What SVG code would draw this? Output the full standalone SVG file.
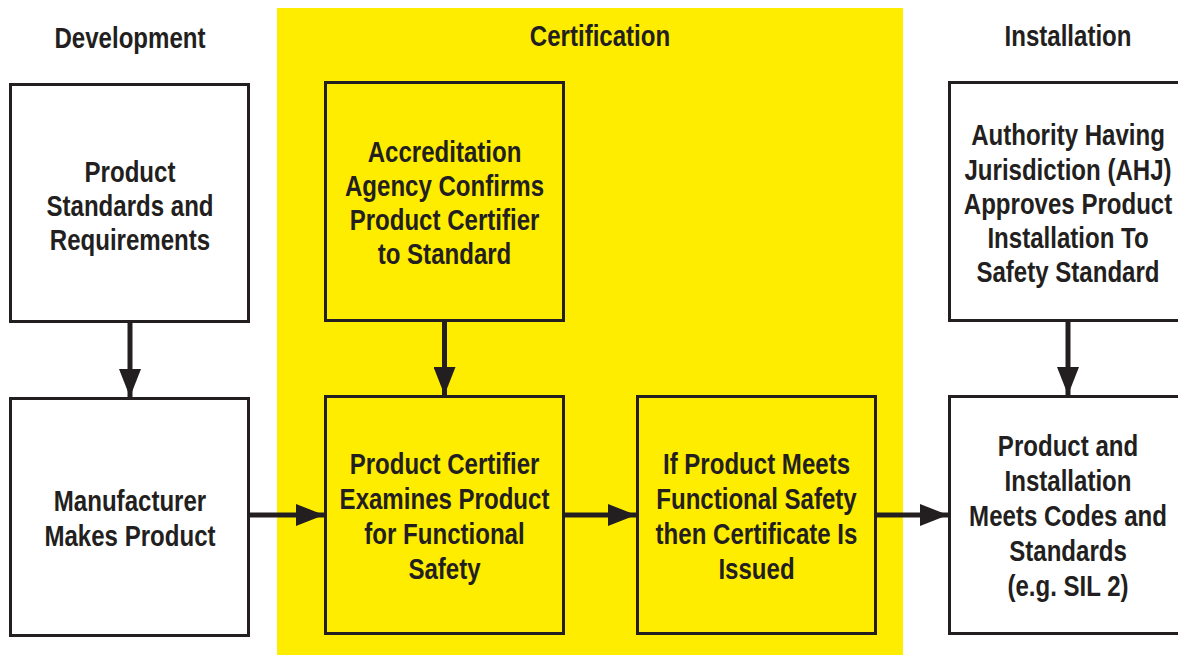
<svg xmlns="http://www.w3.org/2000/svg" width="1178" height="655" viewBox="0 0 1178 655">
  <style>
    .box { fill: #ffffff; stroke: #231f20; stroke-width: 3; }
    .ybox { fill: #ffed00; stroke: #231f20; stroke-width: 3; }
    .t { font-family: "Liberation Sans", Arial, sans-serif; font-weight: bold; font-size: 29px; fill: #231f20; text-anchor: middle; }
    .conn { stroke: #231f20; stroke-width: 5; fill: none; marker-end: url(#ah); }
  </style>
  <defs>
    <marker id="ah" markerUnits="userSpaceOnUse" markerWidth="28" markerHeight="22" refX="28" refY="11" orient="auto">
      <path d="M0,0 L28,11 L0,22 z" fill="#231f20"/>
    </marker>
  </defs>
  <rect x="0" y="0" width="1178" height="655" fill="#ffffff"/>
  <rect id="certification-band" x="277" y="8" width="626" height="647" fill="#ffed00"/>

  <g id="headers">
    <g transform="translate(130 0) scale(0.83 1)"><text class="t" x="0" y="48">Development</text></g>
    <g transform="translate(600 0) scale(0.83 1)"><text class="t" x="0" y="46">Certification</text></g>
    <g transform="translate(1068 0) scale(0.83 1)"><text class="t" x="0" y="46">Installation</text></g>
  </g>

  <g id="connectors">
    <line class="conn" x1="130" y1="323" x2="130" y2="397"/>
    <line class="conn" x1="444.5" y1="322" x2="444.5" y2="395"/>
    <line class="conn" x1="1068" y1="322" x2="1068" y2="395"/>
    <line class="conn" x1="250" y1="515" x2="324" y2="515"/>
    <line class="conn" x1="565" y1="515" x2="636" y2="515"/>
    <line class="conn" x1="877" y1="515" x2="948" y2="515"/>
  </g>

  <g id="product-standards">
    <rect class="box" x="10.5" y="84.5" width="238" height="237"/>
    <g transform="translate(130 0) scale(0.83 1)">
      <text class="t" x="0" y="182">Product</text>
      <text class="t" x="0" y="216">Standards and</text>
      <text class="t" x="0" y="250">Requirements</text>
    </g>
  </g>

  <g id="manufacturer">
    <rect class="box" x="10.5" y="398.5" width="238" height="237"/>
    <g transform="translate(130 0) scale(0.83 1)">
      <text class="t" x="0" y="511">Manufacturer</text>
      <text class="t" x="0" y="546">Makes Product</text>
    </g>
  </g>

  <g id="accreditation">
    <rect class="ybox" x="325.5" y="82.5" width="238" height="238"/>
    <g transform="translate(444.5 0) scale(0.83 1)">
      <text class="t" x="0" y="162">Accreditation</text>
      <text class="t" x="0" y="196">Agency Confirms</text>
      <text class="t" x="0" y="230">Product Certifier</text>
      <text class="t" x="0" y="264">to Standard</text>
    </g>
  </g>

  <g id="certifier-examines">
    <rect class="ybox" x="325.5" y="396.5" width="238" height="237"/>
    <g transform="translate(444.5 0) scale(0.83 1)">
      <text class="t" x="0" y="474">Product Certifier</text>
      <text class="t" x="0" y="509">Examines Product</text>
      <text class="t" x="0" y="544">for Functional</text>
      <text class="t" x="0" y="579">Safety</text>
    </g>
  </g>

  <g id="certificate-issued">
    <rect class="ybox" x="637.5" y="396.5" width="238" height="237"/>
    <g transform="translate(756.5 0) scale(0.83 1)">
      <text class="t" x="0" y="474">If Product Meets</text>
      <text class="t" x="0" y="509">Functional Safety</text>
      <text class="t" x="0" y="544">then Certificate Is</text>
      <text class="t" x="0" y="579">Issued</text>
    </g>
  </g>

  <g id="ahj">
    <rect class="box" x="949.5" y="82.5" width="238" height="238"/>
    <g transform="translate(1068 0) scale(0.83 1)">
      <text class="t" x="0" y="145">Authority Having</text>
      <text class="t" x="0" y="180">Jurisdiction (AHJ)</text>
      <text class="t" x="0" y="214">Approves Product</text>
      <text class="t" x="0" y="248">Installation To</text>
      <text class="t" x="0" y="282">Safety Standard</text>
    </g>
  </g>

  <g id="meets-codes">
    <rect class="box" x="949.5" y="396.5" width="238" height="237"/>
    <g transform="translate(1068 0) scale(0.83 1)">
      <text class="t" x="0" y="456">Product and</text>
      <text class="t" x="0" y="491">Installation</text>
      <text class="t" x="0" y="526">Meets Codes and</text>
      <text class="t" x="0" y="561">Standards</text>
      <text class="t" x="0" y="596">(e.g. SIL 2)</text>
    </g>
  </g>
</svg>
